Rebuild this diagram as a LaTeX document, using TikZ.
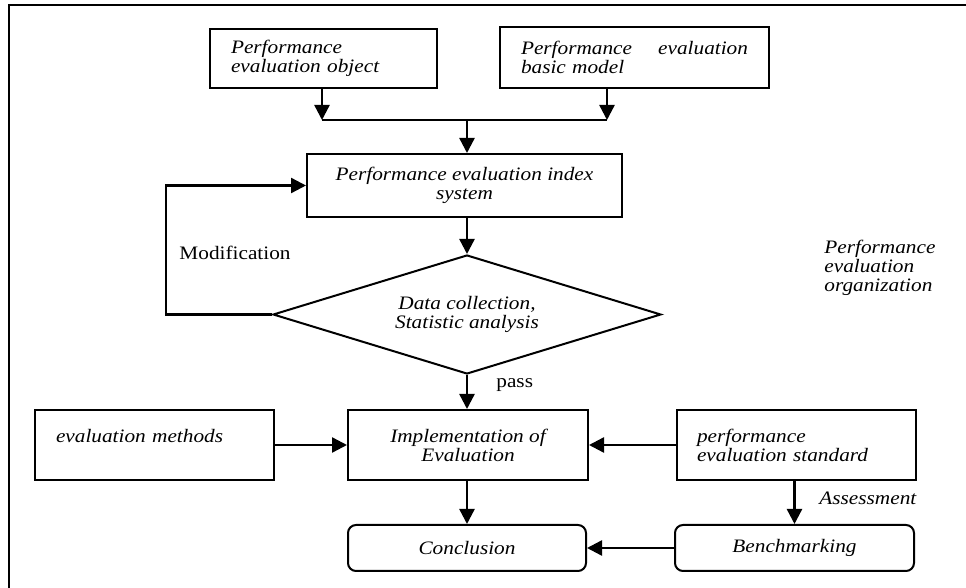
\documentclass[tikz,border=0pt]{standalone}
\usepackage{fontspec}
\setmainfont[FakeStretch=1.12]{Liberation Serif}
\usetikzlibrary{arrows.meta, shapes.geometric}
\tikzset{
    evalbox/.style={
        draw, line width=1pt, inner ysep=0pt,
        font=\fontsize{9.5pt}{9.5pt}\selectfont\itshape
    },
    leftbox/.style={evalbox, align=left},
    midbox/.style={evalbox, align=center, inner xsep=0pt},
    endbox/.style={midbox, rounded corners=4pt, minimum height=23pt},
    decision/.style={
        evalbox, diamond, align=center, inner sep=0pt, shape aspect=3.26,
        minimum width=194pt, minimum height=59.5pt
    },
    flownote/.style={inner sep=0pt, font=\fontsize{9.5pt}{9.5pt}\selectfont\itshape},
    plainnote/.style={inner sep=0pt, font=\fontsize{9.5pt}{9.5pt}\selectfont},
    flowarrow/.style={line width=1.2pt, -{Triangle[length=7.5pt, width=7.5pt]}},
    flowline/.style={line width=1.2pt}
}

\begin{document}
\begin{tikzpicture}[x=0.5pt, y=-0.5pt]
    \useasboundingbox (0,0) rectangle (966,588);
    \draw[line width=1pt] (9,588) -- (9,5) -- (966,5);

    % upper part
    \node[leftbox, text width=92.5pt, inner xsep=10.5pt, minimum height=29.5pt]
        (object) at (323.5,58.5) {Performance\\evaluation object};
    \node[leftbox, text width=113.5pt, inner xsep=10.5pt, minimum height=30.5pt]
        (model) at (634.5,57.5) {Performance\hfill evaluation\\basic model};
    \node[midbox, minimum width=157.5pt, minimum height=31.5pt]
        (index) at (464.5,185.5) {Performance evaluation index\\system};
    \node[decision] (data) at (467,314.5) {Data collection,\\Statistic analysis};

    \coordinate (joinL) at (322,120);
    \coordinate (joinR) at (607,120);
    \coordinate (join) at (467,120);

    \draw[flowarrow] (object.south -| joinL) -- (joinL);
    \draw[flowarrow] (model.south -| joinR) -- (joinR);
    \draw[flowline] (joinL) -- (joinR);
    \draw[flowarrow] (join) -- (join |- index.north);
    \draw[flowarrow] (index.south -| data.north) -- (data.north);
    \draw[flowarrow] (data.west) -- ++(-106,0) |- (index.west);

    \node[plainnote] (modify) at (235,253) {Modification};
    \node[flownote, anchor=west, align=left] (organization) at (824,268)
        {Performance\\evaluation\\organization};

    % lower part
    \node[leftbox, text width=98.5pt, inner xsep=10.5pt, minimum height=35pt]
        (methods) at (154.5,445) {evaluation methods\\\mbox{}};
    \node[midbox, minimum width=120pt, minimum height=35pt]
        (implement) at (468,445) {Implementation of\\Evaluation};
    \node[leftbox, text width=99.5pt, inner xsep=10pt, minimum height=35pt]
        (standard) at (796.5,445) {performance\\evaluation standard};
    \node[endbox, minimum width=119pt] (conclusion) at (467,548) {Conclusion};
    \node[endbox, minimum width=119.5pt] (benchmark) at (794.5,548) {Benchmarking};

    \draw[flowarrow] (data.south) -- (data.south |- implement.north);
    \node[plainnote, anchor=west] (pass) at (496,385) {pass};
    \draw[flowarrow] (methods.east) -- (implement.west);
    \draw[flowarrow] (standard.west) -- (implement.east);
    \draw[flowarrow] (implement.south -| conclusion.north) -- (conclusion.north);
    \draw[flowarrow] (standard.south -| benchmark.north) -- (benchmark.north);
    \node[flownote, anchor=west] (assess) at (819,498) {Assessment};
    \draw[flowarrow] (benchmark.west) -- (conclusion.east);
\end{tikzpicture}
\end{document}
